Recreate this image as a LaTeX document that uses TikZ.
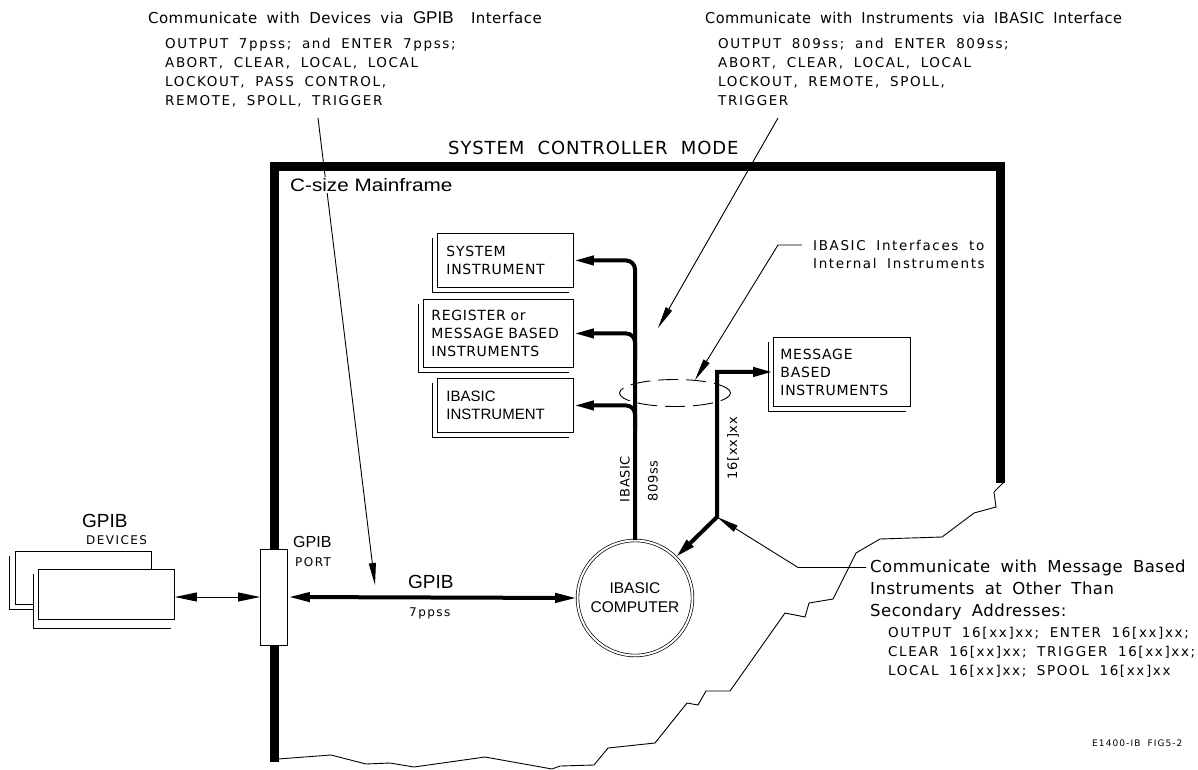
\documentclass[tikz,border=0pt]{standalone}
\usepackage{fontspec}
\usetikzlibrary{arrows.meta,shapes.geometric}
\newfontfamily\cadH{DejaVu Sans}[LetterSpace=3,WordSpace=1.8]
\newfontfamily\cadS{DejaVu Sans}[LetterSpace=12,WordSpace=1.8]
\newfontfamily\cadB{DejaVu Sans}[LetterSpace=5,WordSpace=1.8]
\newfontfamily\cadT{DejaVu Sans}[LetterSpace=5,WordSpace=2]
\newfontfamily\arialf{Liberation Sans}
\begin{document}
\begin{tikzpicture}[x=1pt,y=-1pt,
  frame/.style={line width=9pt,line join=miter,line cap=butt},
  bus/.style={line width=4pt},
  leader/.style={line width=0.9pt},
  cutline/.style={line width=0.9pt,line join=miter},
  ibox/.style={draw,line width=0.9pt,rectangle,anchor=north west,inner ysep=0pt,align=left},
  shl/.style={line width=0.9pt},
  hd/.style={inner sep=0pt,anchor=base west,font=\cadH\fontsize{15}{18}\selectfont},
  hb/.style={inner sep=0pt,anchor=base west,font=\cadH\fontsize{16.5}{20}\selectfont},
  sb/.style={inner sep=0pt,anchor=base west,font=\cadS\fontsize{13.5}{16}\selectfont},
  sm/.style={inner sep=0pt,font=\cadB\fontsize{13}{17.5}\selectfont},
  tiny/.style={inner sep=0pt,anchor=base west,font=\cadS\fontsize{12}{15}\selectfont},
  ar/.style={inner sep=0pt,anchor=base west,font=\arialf\fontsize{#1}{#1}\selectfont},
  btip/.style={-{Triangle[length=20pt,width=9pt]}},
  ltip/.style={-{Triangle[length=22pt,width=7pt]}},
  dtip/.style={{Triangle[length=22pt,width=9pt]}-{Triangle[length=22pt,width=9pt]}}
]
\useasboundingbox (0,0) rectangle (1198,770);

% ---- top texts
\node[hd] (th1) at (148,23.5) {Communicate with Devices via {\arialf\fontsize{17}{18}\selectfont GPIB}\hspace{8pt} Interface};
\node[sb] (ta1) at (165,48.5) {OUTPUT 7ppss; and ENTER 7ppss;};
\node[sb] (ta2) at (165,67.5) {ABORT, CLEAR, LOCAL, LOCAL};
\node[sb] (ta3) at (165,86.5) {LOCKOUT, PASS CONTROL,};
\node[sb] (ta4) at (165,105.5) {REMOTE, SPOLL, TRIGGER};
\node[hd] (th2) at (705,23.5) {\scalebox{0.97}[1]{Communicate with Instruments via IBASIC Interface}};
\node[sb] (tb1) at (718,48.5) {OUTPUT 809ss; and ENTER 809ss;};
\node[sb] (tb2) at (718,67.5) {ABORT, CLEAR, LOCAL, LOCAL};
\node[sb] (tb3) at (718,86.5) {LOCKOUT, REMOTE, SPOLL,};
\node[sb] (tb4) at (718,105.5) {TRIGGER};

% ---- leaders from top texts
\coordinate (la0) at (318,118); \coordinate (la1) at (375,585);
\coordinate (lb0) at (778,118); \coordinate (lb1) at (658,328);
\draw[leader,ltip] (la0) -- (la1);
\draw[leader,ltip] (lb0) -- (lb1);

% ---- cut edge
\draw[cutline] (278,759) -- (331,755) -- (366,764) -- (390,763) -- (414,767) -- (485,757)
  -- (552,769) -- (560,766) -- (594,765) -- (608,748) -- (655,743) -- (687,703) -- (698,705)
  -- (706,691) -- (730,691) -- (785,613) -- (805,617) -- (809,603) -- (833,599) -- (856,553)
  -- (880,539) -- (942,537) -- (974,513) -- (996,507) -- (994,492) -- (1003,483);

% ---- port and frame
\node[draw,line width=0.9pt,fill=white,minimum width=27pt,minimum height=96pt,inner sep=0pt] (port) at (274,597) {};
\draw[frame] (port.north) -- (274,167) -- (1000,167) -- (1000,483);
\draw[frame] (port.south) -- (274,762);

\node[ar=18,fill=white,inner sep=1pt] (cs) at (289,191.5) {\scalebox{1.15}[1]{C-size Mainframe}};
\node[inner sep=0pt,anchor=base west,font=\cadT\fontsize{18}{20}\selectfont] (scm) at (448,154.6) {SYSTEM CONTROLLER MODE};

% ---- instrument boxes
\node[ibox,minimum width=136pt,minimum height=54pt,text width=118pt,inner xsep=9pt,font=\cadB\fontsize{14}{17.5}\selectfont] (sys) at (437,233) {SYSTEM\\INSTRUMENT};
\node[ibox,minimum width=150pt,minimum height=68pt,text width=134pt,inner xsep=8pt,font=\cadB\fontsize{14}{18}\selectfont] (reg) at (423,299) {REGISTER or\\MESSAGE BASED\\INSTRUMENTS};
\node[ibox,minimum width=136pt,minimum height=54pt,text width=118pt,inner xsep=9pt,font=\arialf\fontsize{15}{18}\selectfont] (ibi) at (437,378) {IBASIC\\INSTRUMENT};
\node[ibox,minimum width=137pt,minimum height=69pt,text width=123pt,inner xsep=7pt,font=\cadB\fontsize{14}{18}\selectfont] (msg) at (773,337) {MESSAGE\\BASED\\INSTRUMENTS};
\foreach \b in {sys,reg,ibi,msg}
  \draw[shl] ([xshift=-5pt,yshift=-5pt]\b.north west) |- ([xshift=-5pt,yshift=-5pt]\b.south east);

% ---- interfaces ellipse
\node[ellipse,draw,line width=0.9pt,dash pattern=on 20pt off 8pt,minimum width=111pt,minimum height=27pt,inner sep=0pt] (ifc) at (675,393) {};
\node[sb] (if1) at (813,250) {IBASIC Interfaces to};
\node[sb] (if2) at (813,268) {Internal Instruments};
\coordinate (ift) at (695,380);
\draw[leader,ltip] ([xshift=-11pt]if1.west) -- ++(-24,0) -- (ift);

% ---- computer
\node[circle,draw,double,double distance=2pt,line width=0.7pt,minimum size=115pt,inner sep=0pt,align=center,font=\arialf\fontsize{15.5}{19}\selectfont] (comp) at (635,598) {IBASIC\\COMPUTER};

% ---- buses
\draw[bus,btip,rounded corners=9pt] (comp.north) |- (sys.east);
\coordinate (b2) at (635,360);
\draw[bus,btip,rounded corners=9pt] (b2) |- (reg.east);
\coordinate (b3) at (635,430);
\draw[bus,btip,rounded corners=9pt] (b3) |- (ibi.east);
\coordinate (J) at (717,517);
\draw[bus,{Triangle[length=20pt,width=9pt]}-{Triangle[length=20pt,width=9pt]},line join=miter] (comp.45) -- (J) |- (msg.west);

\node[sm,rotate=90] (lbI) at (625,479) {IBASIC};
\node[sm,rotate=90] (lb809) at (653,481) {809ss};
\node[sm,rotate=90] (lb16) at (733,448) {16[xx]xx};

% ---- GPIB devices
\node[draw,line width=0.9pt,fill=white,anchor=north west,minimum width=136pt,minimum height=53pt,inner sep=0pt] (devback) at (15,551) {};
\draw[shl] ([xshift=-6pt,yshift=-5pt]devback.north west) |- ([xshift=-6pt,yshift=-5pt]devback.south east);
\fill[white] (33,569) rectangle (174,628);
\node[draw,line width=0.9pt,fill=white,anchor=north west,minimum width=136pt,minimum height=50pt,inner sep=0pt] (devfront) at (38,569) {};
\draw[shl] ([xshift=-5pt,yshift=-5pt]devfront.north west) |- ([xshift=-4pt,yshift=-9pt]devfront.south east);
\node[ar=19] (dg) at (82,527) {GPIB};
\node[tiny] (dd) at (86,544) {DEVICES};
\node[ar=16] (pg) at (293,547) {GPIB};
\node[tiny] (pp) at (295,566) {PORT};
\draw[leader,dtip] (port.west -| devfront.east) -- (port.west);
\draw[bus,dtip] (port.east) -- (comp.west);
\node[ar=19] (ag) at (408,588) {GPIB};
\node[tiny] (a7) at (409,616) {7ppss};

% ---- bottom right text
\node[hb] (br1) at (870,572) {Communicate with Message Based};
\node[hb] (br2) at (870,594) {Instruments at Other Than};
\node[hb] (br3) at (870,616) {Secondary Addresses:};
\node[sb] (bs1) at (888,637) {OUTPUT 16[xx]xx; ENTER 16[xx]xx;};
\node[sb] (bs2) at (888,656) {CLEAR 16[xx]xx; TRIGGER 16[xx]xx;};
\node[sb] (bs3) at (888,675) {LOCAL 16[xx]xx; SPOOL 16[xx]xx};
\draw[leader,ltip] ([xshift=-4pt]br1.west) -- ++(-68,0) -- (J);

\node[inner sep=0pt,anchor=base west,font=\cadS\fontsize{9}{10}\selectfont] (fig) at (1092,746) {E1400-IB FIG5-2};
\end{tikzpicture}
\end{document}
